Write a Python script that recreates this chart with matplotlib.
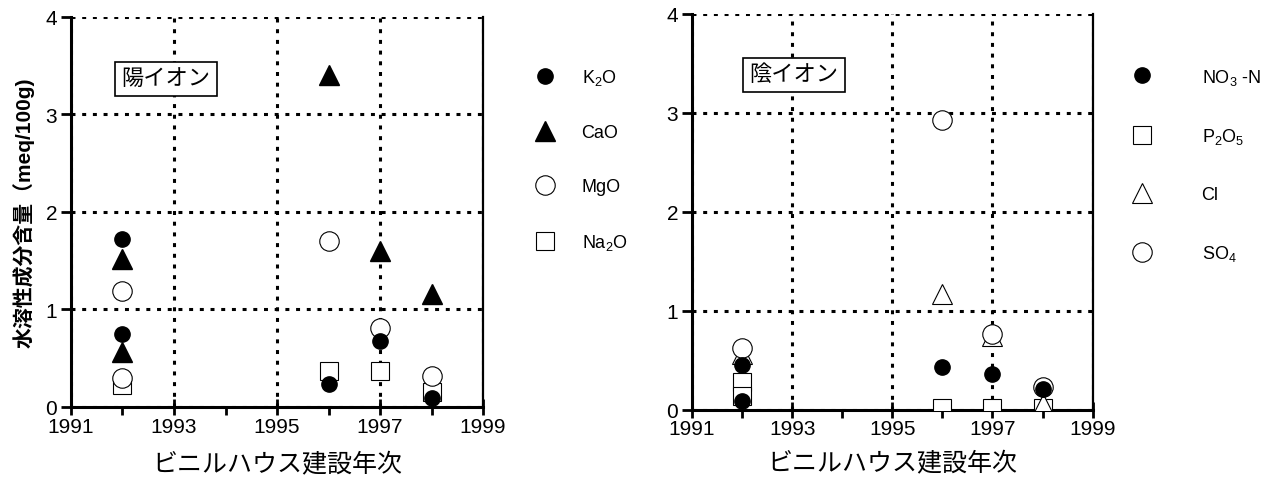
import matplotlib.pyplot as plt
from matplotlib.ticker import MultipleLocator

plt.rcParams['font.family'] = ['Liberation Sans', 'Noto Sans CJK JP']
plt.rcParams['mathtext.fontset'] = 'custom'
plt.rcParams['mathtext.rm'] = 'Liberation Sans'

# 陽イオン (cations)
k2o_year = [1992, 1992, 1996, 1997, 1998]
k2o_val = [1.72, 0.75, 0.23, 0.68, 0.09]
cao_year = [1992, 1992, 1996, 1997, 1998]
cao_val = [1.52, 0.56, 3.40, 1.60, 1.16]
mgo_year = [1992, 1992, 1996, 1997, 1998]
mgo_val = [1.19, 0.30, 1.70, 0.81, 0.32]
na2o_year = [1992, 1996, 1997, 1998]
na2o_val = [0.22, 0.37, 0.37, 0.15]

# 陰イオン (anions)
no3_year = [1992, 1992, 1996, 1997, 1998]
no3_val = [0.45, 0.09, 0.43, 0.36, 0.21]
p2o5_year = [1992, 1992, 1996, 1997, 1998]
p2o5_val = [0.28, 0.14, 0.02, 0.02, 0.02]
cl_year = [1992, 1996, 1997, 1998]
cl_val = [0.56, 1.17, 0.75, 0.06]
so4_year = [1992, 1996, 1997, 1998]
so4_val = [0.62, 2.93, 0.77, 0.23]

fig = plt.figure(figsize=(12.72, 4.81), dpi=100)
ax1 = fig.add_axes([0.0558, 0.152, 0.324, 0.811])
ax2 = fig.add_axes([0.544, 0.146, 0.315, 0.823])


def style_axes(ax, label_y):
    ax.set_xlim(1991, 1999)
    ax.set_ylim(0, 4)
    ax.set_xticks([1991, 1993, 1995, 1997, 1999])
    ax.xaxis.set_minor_locator(MultipleLocator(1))
    ax.set_yticks([0, 1, 2, 3, 4])
    ax.spines['top'].set_visible(False)
    ax.spines['left'].set_linewidth(2.2)
    ax.spines['bottom'].set_linewidth(2.2)
    ax.spines['right'].set_linewidth(1.6)
    ax.tick_params(axis='x', which='major', direction='inout', length=12,
                   width=2, labelsize=15, pad=1)
    ax.tick_params(axis='x', which='minor', direction='out', length=6,
                   width=2)
    ax.tick_params(axis='y', which='major', direction='out', length=7,
                   width=2, labelsize=15, pad=3)
    ax.grid(True, which='major', color='black', linestyle=(0, (1.3, 2.2)),
            linewidth=2.2)
    ax.set_axisbelow(True)
    ax.set_xlabel('ビニルハウス建設年次', fontsize=18, va='center')
    ax.xaxis.set_label_coords(0.5, label_y)


mk = dict(linestyle='none', color='black')

style_axes(ax1, -0.146)
ax1.plot(na2o_year, na2o_val, marker='s', markersize=13, markerfacecolor='white',
         markeredgewidth=0.8, label='Na$_{2}$O', zorder=3, **mk)
ax1.plot(mgo_year, mgo_val, marker='o', markersize=14, markerfacecolor='white',
         markeredgewidth=0.8, label='MgO', zorder=4, **mk)
ax1.plot(cao_year, cao_val, marker='^', markersize=14, label='CaO', zorder=5, **mk)
ax1.plot(k2o_year, k2o_val, marker='o', markersize=11, label='K$_{2}$O', zorder=6, **mk)
h1, l1 = ax1.get_legend_handles_labels()
order = [3, 2, 1, 0]
ax1.legend([h1[i] for i in order], [l1[i] for i in order], loc='upper left',
           bbox_to_anchor=(1.09, 0.89), frameon=False, fontsize=13,
           labelspacing=2.05, handletextpad=1.0, borderaxespad=0)
ax1.set_ylabel('水溶性成分含量（meq/100g)', fontsize=15, fontweight='bold',
               labelpad=8)
ax1.text(0.23, 0.841, '陽イオン', transform=ax1.transAxes, fontsize=16,
         ha='center', va='center', zorder=7,
         bbox=dict(boxstyle='square,pad=0.3', facecolor='white',
                   edgecolor='black', linewidth=1.2))

style_axes(ax2, -0.136)
ax2.plot(p2o5_year, p2o5_val, marker='s', markersize=13, markerfacecolor='white',
         markeredgewidth=0.8, label='P$_{2}$O$_{5}$', zorder=3, **mk)
ax2.plot(cl_year, cl_val, marker='^', markersize=14, markerfacecolor='white',
         markeredgewidth=0.8, label='Cl', zorder=4, **mk)
ax2.plot(so4_year, so4_val, marker='o', markersize=14, markerfacecolor='white',
         markeredgewidth=0.8, label='SO$_{4}$', zorder=4, **mk)
ax2.plot(no3_year, no3_val, marker='o', markersize=11, label='NO$_{3}$ -N',
         zorder=6, **mk)
h2, l2 = ax2.get_legend_handles_labels()
ax2.legend([h2[3], h2[0], h2[1], h2[2]], [l2[3], l2[0], l2[1], l2[2]],
           loc='upper left', bbox_to_anchor=(1.06, 0.885), frameon=False,
           fontsize=13, labelspacing=2.2, handletextpad=2.3, borderaxespad=0)
ax2.text(0.254, 0.846, '陰イオン', transform=ax2.transAxes, fontsize=16,
         ha='center', va='center', zorder=7,
         bbox=dict(boxstyle='square,pad=0.3', facecolor='white',
                   edgecolor='black', linewidth=1.2))

fig.savefig('out.png', dpi=100)
